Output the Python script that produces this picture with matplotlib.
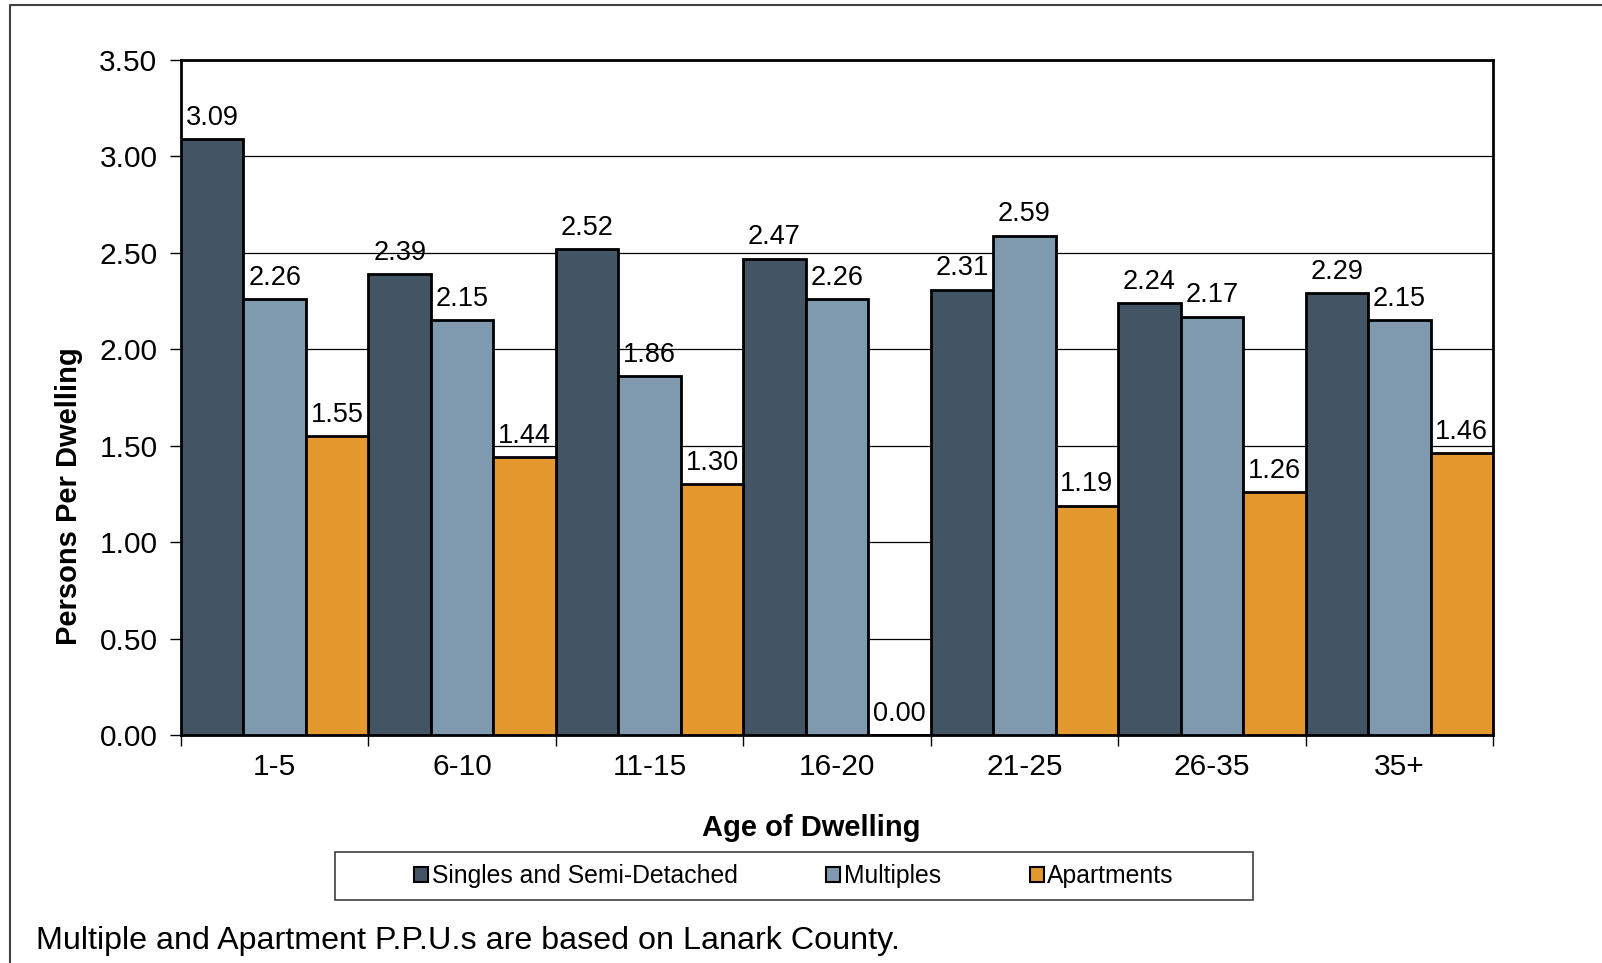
import matplotlib.pyplot as plt
import matplotlib.patches as mpatches
from matplotlib.lines import Line2D
import numpy as np

plt.rcParams['font.family'] = ['Liberation Sans', 'DejaVu Sans']

ages = ['1-5', '6-10', '11-15', '16-20', '21-25', '26-35', '35+']
singles = [3.09, 2.39, 2.52, 2.47, 2.31, 2.24, 2.29]
multiples = [2.26, 2.15, 1.86, 2.26, 2.59, 2.17, 2.15]
apartments = [1.55, 1.44, 1.30, 0.00, 1.19, 1.26, 1.46]

series = [('Singles and Semi-Detached', singles, '#435465'),
          ('Multiples', multiples, '#7f9aae'),
          ('Apartments', apartments, '#e3992e')]

W, H = 1602, 963
fig = plt.figure(figsize=(W / 100, H / 100), dpi=100)
ax = fig.add_axes([181 / W, 1 - 735 / H, (1493 - 181) / W, (735 - 60) / H])

x = np.arange(len(ages))
bw = 1 / 3
for i, (name, vals, col) in enumerate(series):
    pos = x + (i - 1) * bw
    ax.bar(pos, vals, width=bw, color=col, edgecolor='black', linewidth=2,
           zorder=3, label=name)
    for px, v in zip(pos, vals):
        ax.annotate(f'{v:.2f}', (px, v), xytext=(0, 6), textcoords='offset points',
                    ha='center', va='bottom', fontsize=19.5, zorder=4)

ax.set_xlim(-0.5, len(ages) - 0.5)
ax.set_ylim(0, 3.5)
ax.set_yticks(np.arange(0, 3.51, 0.5))
ax.set_yticklabels([f'{t:.2f}' for t in np.arange(0, 3.51, 0.5)], fontsize=21.5)
ax.set_xticks(x)
ax.set_xticklabels(ages, fontsize=21.5)
ax.set_xticks(np.arange(-0.5, len(ages), 1), minor=True)
ax.tick_params(axis='x', which='major', length=0, pad=13)
ax.tick_params(axis='x', which='minor', length=8, width=1, direction='out')
ax.tick_params(axis='y', length=8, width=1, direction='out', pad=9)
ax.yaxis.grid(True, color='black', linewidth=0.9, zorder=0)
ax.set_axisbelow(True)
for s in ax.spines.values():
    s.set_linewidth(2)
    s.set_color('black')

ax.set_xlabel('Age of Dwelling', fontsize=21, fontweight='bold')
ax.set_ylabel('Persons Per Dwelling', fontsize=21, fontweight='bold')
ax.xaxis.set_label_coords(0.48, -0.117)
ax.yaxis.set_label_coords(-0.075, 0.354)

# legend box
fig.patches.append(mpatches.Rectangle((335 / W, 1 - 900 / H), 918 / W, 48 / H,
                                      transform=fig.transFigure, fill=False,
                                      edgecolor='#404040', linewidth=1.2))
handles = [mpatches.Patch(facecolor=c, edgecolor='black', linewidth=1.5, label=n)
           for n, _, c in series]
fig.legend(handles=handles, loc='center', bbox_to_anchor=(794 / W, 1 - 876 / H),
           ncol=3, frameon=False, fontsize=17.8, handlelength=0.55, handleheight=0.55,
           handletextpad=0.15, columnspacing=3.6)

fig.text(36 / W, 1 - 941 / H, 'Multiple and Apartment P.P.U.s are based on Lanark County.',
         fontsize=23.2, va='center', ha='left')

# outer frame
fig.add_artist(Line2D([10 / W, 10 / W, 1], [0, 1 - 5 / H, 1 - 5 / H],
                      transform=fig.transFigure, color='#404040', linewidth=1.5))

fig.savefig('out.png', dpi=100, facecolor='white')
